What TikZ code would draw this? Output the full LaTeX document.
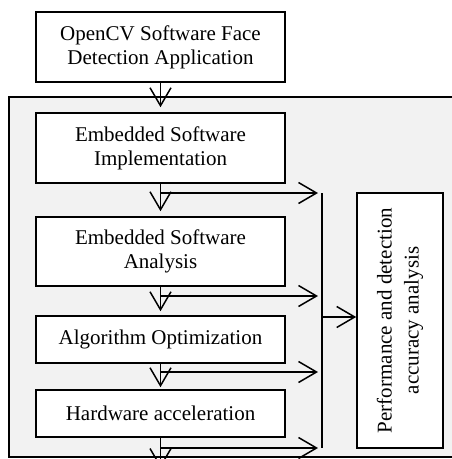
\documentclass[tikz,border=0pt]{standalone}
\usepackage{fontspec}
\setmainfont{Liberation Serif}
\usetikzlibrary{arrows.meta}
\definecolor{panel}{HTML}{F2F2F2}
\begin{document}
\begin{tikzpicture}[x=1pt,y=-1pt,
  box/.style={draw, line width=1.6pt, fill=white, minimum width=249pt, align=center,
    font=\fontsize{21}{24}\selectfont, inner sep=0pt},
  flow/.style={line width=1.5pt, -{Straight Barb[length=18pt,width=21pt,line width=1.5pt]}},
  link/.style={line width=1.5pt}]
\useasboundingbox (0,0) rectangle (452,459);
% container
\fill[panel] (9,97) rectangle (460,457);
\draw[line width=1.2pt] (460,97) -- (9,97) -- (9,457) -- (460,457);
% boxes
\node[box, minimum height=70pt] (src) at (160.5,47) {OpenCV Software Face\\Detection Application};
\node[box, minimum height=70pt] (impl) at (160.5,148) {Embedded Software\\Implementation};
\node[box, minimum height=69pt] (ana) at (160.5,251.5) {Embedded Software\\Analysis};
\node[box, minimum height=47pt] (opt) at (160.5,339.5) {Algorithm Optimization};
\node[box, minimum height=47pt] (hw) at (160.5,413.5) {Hardware acceleration};
\node[box, rotate=90, minimum width=255pt, minimum height=86pt, font=\fontsize{21}{27}\selectfont]
  (perf) at (400,320.5) {Performance and detection\\accuracy analysis};
% coordinates
\coordinate (b1) at (160.5,193);
\coordinate (b2) at (160.5,296);
\coordinate (b3) at (160.5,372);
\coordinate (b4) at (160.5,448);
\coordinate (bustop) at (322,193);
\coordinate (busbot) at (322,448);
\coordinate (tap) at (322,317);
\coordinate (hwout) at (160.5,468);
% main flow
\draw[flow, shorten >=5pt] (src.south) -- (impl.north);
\draw[flow, shorten >=5pt] (impl.south) -- (ana.north);
\draw[flow, shorten >=4pt] (ana.south) -- (opt.north);
\draw[flow, shorten >=2pt] (opt.south) -- (hw.north);
\draw[flow] (hw.south) -- (hwout);
% branches to bus
\draw[flow, shorten >=4pt] (b1) -- (b1 -| bustop);
\draw[flow, shorten >=4pt] (b2) -- (b2 -| bustop);
\draw[flow, shorten >=4pt] (b3) -- (b3 -| bustop);
\draw[flow, shorten >=4pt] (b4) -- (b4 -| bustop);
\draw[link] (bustop) -- (busbot);
\draw[flow] (tap) -- (tap -| perf.north);
\end{tikzpicture}
\end{document}
